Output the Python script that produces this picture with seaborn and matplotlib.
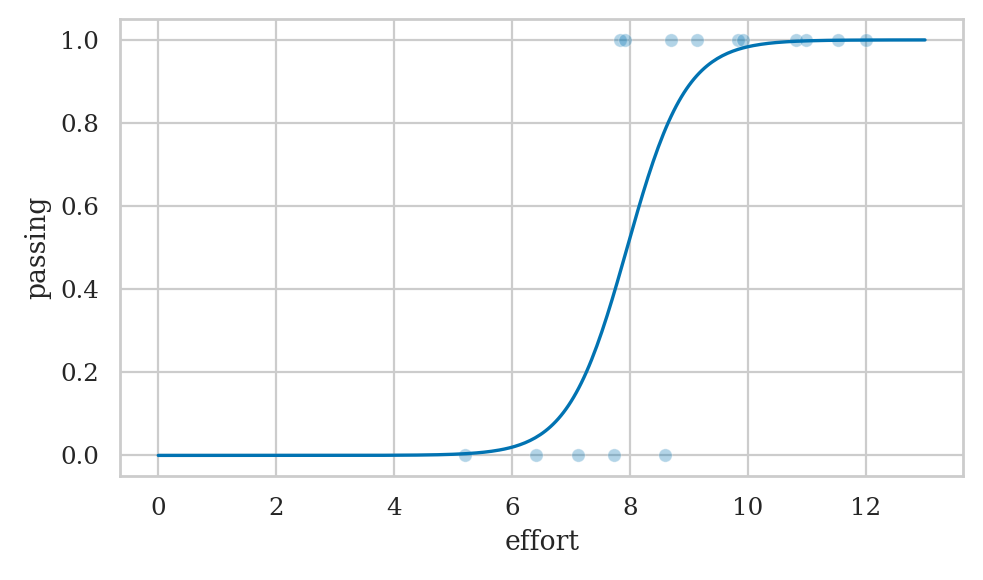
import numpy as np
import pandas as pd
import matplotlib
matplotlib.use("Agg")
import matplotlib.pyplot as plt
import seaborn as sns

# observed students: hours of effort and pass (1) / fail (0)
effort_pass = [7.83, 7.92, 8.69, 9.14, 9.83, 9.92, 10.81, 10.98, 11.53, 12.0]
effort_fail = [5.20, 6.40, 7.11, 7.72, 8.60]

# fitted logistic model
intercept = -15.9
slope = 2.0
x_min, x_max = 0, 13

sns.set_theme(style="whitegrid", palette="colorblind")
plt.rcParams['font.family'] = ['DejaVu Serif']

df = pd.DataFrame({
    "effort": effort_pass + effort_fail,
    "passing": [1] * len(effort_pass) + [0] * len(effort_fail),
})

xs = np.linspace(x_min, x_max, 300)
curve = pd.DataFrame({"effort": xs, "passing": 1 / (1 + np.exp(-(intercept + slope * xs)))})

fig, ax = plt.subplots(figsize=(983 / 160, 580 / 160), dpi=160)
sns.scatterplot(data=df, x="effort", y="passing", alpha=0.3, ax=ax)
sns.lineplot(data=curve, x="effort", y="passing", ax=ax)

fig.subplots_adjust(left=0.122, right=0.98, top=0.967, bottom=0.179)
plt.savefig("out.png", dpi=160)
